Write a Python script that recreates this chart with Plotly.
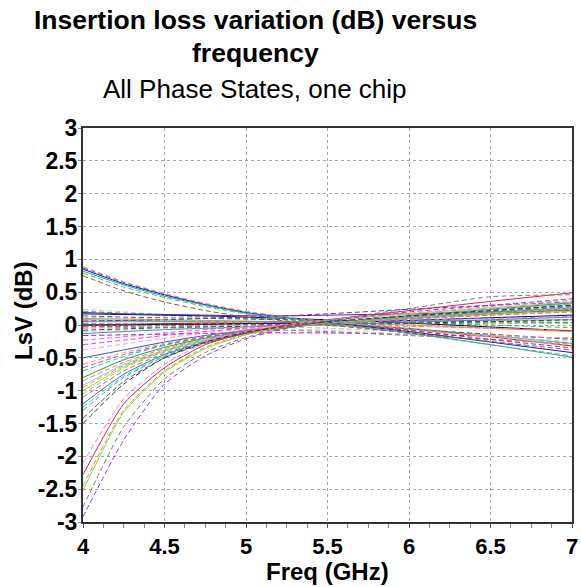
import plotly.graph_objects as go

# ---------------- data ----------------
FREQ_GHZ = [4.0, 4.25, 4.5, 4.75, 5.0, 5.25, 5.5, 6.0, 6.5, 7.0]

# states that start high at 4 GHz and end low at 7 GHz
TOP_STATES = [
    [0.85, 0.63, 0.46, 0.31, 0.19, 0.11, 0.04, -0.10, -0.26, -0.42],
    [0.87, 0.65, 0.47, 0.32, 0.20, 0.12, 0.05, -0.08, -0.22, -0.35],
    [0.82, 0.61, 0.44, 0.30, 0.18, 0.10, 0.03, -0.12, -0.30, -0.49],
    [0.79, 0.58, 0.42, 0.28, 0.17, 0.10, 0.03, -0.13, -0.30, -0.47],
    [0.89, 0.66, 0.48, 0.33, 0.21, 0.12, 0.05, -0.06, -0.18, -0.30],
    [0.75, 0.52, 0.35, 0.22, 0.12, 0.06, 0.00, -0.12, -0.25, -0.38],
]

# states with steep roll-off at the low band edge
STEEP_STATES = [
    [-2.28, -1.20, -0.65, -0.30, -0.12, 0.00, 0.08, 0.22, 0.36, 0.49],
    [-2.10, -1.12, -0.60, -0.27, -0.10, 0.01, 0.08, 0.18, 0.28, 0.38],
    [-2.52, -1.33, -0.72, -0.36, -0.15, -0.02, 0.07, 0.17, 0.26, 0.35],
    [-2.45, -1.30, -0.70, -0.34, -0.14, -0.02, 0.06, 0.15, 0.24, 0.32],
    [-2.77, -1.55, -0.82, -0.42, -0.19, -0.04, 0.07, 0.25, 0.43, 0.46],
    [-2.92, -1.75, -0.90, -0.47, -0.21, -0.05, 0.06, 0.20, 0.30, 0.40],
    [-1.50, -0.90, -0.50, -0.26, -0.11, -0.02, 0.05, 0.14, 0.22, 0.30],
]

# moderately low states at 4 GHz
MID_STATES = [
    [-0.50, -0.38, -0.26, -0.16, -0.08, -0.02, 0.03, 0.10, 0.17, 0.24],
    [-0.23, -0.18, -0.12, -0.07, -0.03, 0.00, 0.03, 0.07, 0.10, 0.13],
    [-0.30, -0.23, -0.16, -0.10, -0.05, -0.01, 0.03, 0.09, 0.15, 0.20],
    [-0.38, -0.29, -0.20, -0.12, -0.06, -0.01, 0.03, 0.10, 0.17, 0.22],
    [-0.60, -0.42, -0.28, -0.17, -0.08, -0.02, 0.03, 0.11, 0.19, 0.27],
    [-0.70, -0.48, -0.31, -0.19, -0.09, -0.03, 0.03, 0.12, 0.21, 0.30],
    [-0.80, -0.53, -0.34, -0.20, -0.10, -0.03, 0.02, 0.10, 0.17, 0.23],
    [-0.92, -0.60, -0.38, -0.22, -0.11, -0.03, 0.03, 0.13, 0.23, 0.33],
    [-1.00, -0.64, -0.40, -0.24, -0.12, -0.04, 0.02, 0.10, 0.16, 0.21],
    [-1.10, -0.70, -0.43, -0.25, -0.12, -0.04, 0.02, 0.11, 0.19, 0.26],
    [-1.25, -0.78, -0.47, -0.27, -0.13, -0.04, 0.02, 0.12, 0.20, 0.28],
    [-1.30, -0.80, -0.48, -0.27, -0.13, -0.04, 0.03, 0.13, 0.22, 0.31],
    [-1.20, -0.75, -0.45, -0.26, -0.12, -0.03, 0.03, 0.14, 0.24, 0.34],
    [-1.42, -0.86, -0.50, -0.28, -0.13, -0.04, 0.02, 0.10, 0.18, 0.25],
    [-0.85, -0.57, -0.36, -0.21, -0.10, -0.03, 0.02, 0.09, 0.15, 0.20],
    [-0.65, -0.45, -0.30, -0.18, -0.09, -0.02, 0.03, 0.12, 0.20, 0.28],
    [-0.95, -0.62, -0.39, -0.23, -0.11, -0.03, 0.02, 0.10, 0.18, 0.24],
    [-1.05, -0.66, -0.41, -0.24, -0.11, -0.03, 0.03, 0.11, 0.18, 0.25],
]

# nearly flat states
FLAT_STATES = [
    [0.24, 0.20, 0.16, 0.13, 0.10, 0.08, 0.06, 0.02, -0.04, -0.10],
    [0.21, 0.18, 0.15, 0.12, 0.10, 0.08, 0.06, 0.03, 0.00, -0.04],
    [0.17, 0.16, 0.15, 0.14, 0.12, 0.10, 0.08, 0.03, -0.03, -0.09],
    [0.14, 0.12, 0.11, 0.10, 0.09, 0.08, 0.07, 0.06, 0.05, 0.04],
    [0.10, 0.09, 0.08, 0.07, 0.06, 0.05, 0.04, 0.00, -0.05, -0.10],
    [0.08, 0.07, 0.06, 0.06, 0.05, 0.04, 0.03, -0.05, -0.16, -0.28],
    [0.05, 0.05, 0.05, 0.05, 0.05, 0.05, 0.05, 0.06, 0.07, 0.08],
    [0.00, 0.01, 0.02, 0.03, 0.03, 0.03, 0.02, -0.06, -0.18, -0.32],
    [0.02, 0.02, 0.02, 0.02, 0.02, 0.01, 0.00, -0.07, -0.14, -0.22],
    [-0.03, -0.02, -0.01, 0.00, 0.01, 0.01, 0.01, 0.02, 0.03, 0.03],
    [-0.05, -0.04, -0.03, -0.02, -0.01, 0.00, 0.00, -0.02, -0.05, -0.08],
    [-0.08, -0.06, -0.04, -0.03, -0.02, -0.01, 0.00, 0.03, 0.05, 0.08],
    [-0.13, -0.10, -0.07, -0.05, -0.03, -0.01, 0.00, 0.04, 0.08, 0.12],
    [-0.16, -0.15, -0.14, -0.13, -0.12, -0.12, -0.12, -0.14, -0.17, -0.20],
    [0.12, 0.10, 0.08, 0.06, 0.04, 0.02, -0.01, -0.08, -0.17, -0.25],
    [0.03, 0.02, 0.01, 0.00, -0.01, -0.03, -0.05, -0.10, -0.16, -0.20],
    [0.19, 0.17, 0.16, 0.15, 0.14, 0.14, 0.15, 0.17, 0.20, 0.22],
    [0.06, 0.07, 0.08, 0.10, 0.12, 0.14, 0.17, 0.24, 0.30, 0.35],
    [-0.10, -0.08, -0.06, -0.05, -0.04, -0.06, -0.08, -0.14, -0.22, -0.30],
    [0.00, 0.00, 0.01, 0.01, 0.02, 0.02, 0.03, 0.07, 0.11, 0.15],
    [-0.02, -0.03, -0.04, -0.05, -0.06, -0.08, -0.10, -0.16, -0.22, -0.28],
]

X_TICKS = [4, 4.5, 5, 5.5, 6, 6.5, 7]
X_TICK_LABELS = ["4", "4.5", "5", "5.5", "6", "6.5", "7"]
Y_TICKS = [3, 2.5, 2, 1.5, 1, 0.5, 0, -0.5, -1, -1.5, -2, -2.5, -3]
Y_TICK_LABELS = ["3", "2.5", "2", "1.5", "1", "0.5", "0", "-0.5", "-1", "-1.5", "-2", "-2.5", "-3"]

# ---------------- styles ----------------
D = "5px,3px"
TOP_STYLE = [("#1010cc", "solid"), ("#7b2fbe", D), ("#2aa198", "solid"),
             ("#33cc66", D), ("#d2a070", D), ("#a0522d", D)]
STEEP_STYLE = [("#e0204a", "solid"), ("#ff77cc", D), ("#a8d020", "solid"),
               ("#8fbc3f", D), ("#708090", D), ("#9933ff", D),
               ("#333333", D)]
MID_STYLE = [("#1f5fbf", "solid"), ("#cc66ff", D), ("#ff33cc", D),
             ("#ff99cc", D), ("#ff9933", D), ("#00cccc", D),
             ("#22aa22", "solid"), ("#87ceeb", "solid"), ("#aadd22", "solid"),
             ("#9966cc", D), ("#33cccc", D), ("#20b2aa", D),
             ("#4169e1", "solid"), ("#555555", D), ("#ff66aa", D),
             ("#aa44dd", D), ("#e69138", D), ("#66ee66", D)]
FLAT_STYLE = [("#99ee99", D), ("#33bb33", D), ("#000080", "solid"),
              ("#008080", D), ("#ff8c00", "solid"), ("#00bfff", "solid"),
              ("#888888", "solid"), ("#ff0000", "solid"), ("#8b4513", D),
              ("#808000", D), ("#ff69b4", D), ("#006400", D),
              ("#4682b4", "solid"), ("#cc00cc", D), ("#d2b48c", D),
              ("#bbbbbb", D), ("#6a0dad", "solid"), ("#663399", D),
              ("#add8e6", D), ("#00008b", "solid"), ("#a0785a", D)]

fig = go.Figure()
for group, styles in [(FLAT_STATES, FLAT_STYLE), (MID_STATES, MID_STYLE),
                      (TOP_STATES, TOP_STYLE), (STEEP_STATES, STEEP_STYLE)]:
    for vals, (col, dash) in zip(group, styles):
        fig.add_trace(go.Scatter(
            x=FREQ_GHZ, y=vals, mode="lines",
            line=dict(color=col, width=1, dash=dash, shape="spline", smoothing=0.6),
            showlegend=False, hoverinfo="skip"))

FONT = "Arial, 'Liberation Sans', sans-serif"
W, H = 581, 587
# plot box in page pixels: left 83, right 572, top 128, bottom 522
L, R, T, B = 83, 581 - 572, 128, 587 - 522
PH = H - T - B
PW = W - L - R

def py(ypx):  # page pixel -> paper y
    return (H - B - ypx) / PH

def px(xpx):  # page pixel -> paper x
    return (xpx - L) / PW

fig.update_layout(
    width=W, height=H,
    margin=dict(l=L, r=R, t=T, b=B, autoexpand=False),
    paper_bgcolor="white", plot_bgcolor="white",
    font=dict(family=FONT, color="black"),
    xaxis=dict(range=[4, 7], tickvals=X_TICKS, ticktext=X_TICK_LABELS,
               tickfont=dict(size=22, family=FONT, weight="bold", color="black"),
               showgrid=True, gridcolor="#a8a8a8", griddash="dot", gridwidth=1,
               showline=True, linecolor="#333333", linewidth=2, mirror=True,
               ticks="outside", ticklen=4, tickcolor="#555555",
               minor=dict(dtick=0.125, ticks="outside", ticklen=4,
                          tickcolor="#888888", showgrid=False),
               ticklabeloverflow="allow",
               zeroline=False, fixedrange=True, automargin=False),
    yaxis=dict(range=[-3, 3], tickvals=Y_TICKS, ticktext=Y_TICK_LABELS,
               tickfont=dict(size=23, family=FONT, weight="bold", color="black"),
               showgrid=True, gridcolor="#a8a8a8", griddash="dot", gridwidth=1,
               showline=True, linecolor="#333333", linewidth=2, mirror=True,
               ticks="outside", ticklen=3, tickcolor="#888888",
               ticklabelstandoff=-4, ticklabeloverflow="allow",
               zeroline=False, fixedrange=True, automargin=False),
    annotations=[
        dict(text="<b>Insertion loss variation (dB) versus</b>", xref="paper", yref="paper",
             x=px(255), y=py(20), xanchor="center", yanchor="middle", showarrow=False,
             font=dict(size=26.5, family=FONT, color="black")),
        dict(text="<b>frequency</b>", xref="paper", yref="paper",
             x=px(255), y=py(53), xanchor="center", yanchor="middle", showarrow=False,
             font=dict(size=26.5, family=FONT, color="black")),
        dict(text="All Phase States, one chip", xref="paper", yref="paper",
             x=px(255), y=py(89), xanchor="center", yanchor="middle", showarrow=False,
             font=dict(size=26, family=FONT, color="black")),
        dict(text="<b>Freq (GHz)</b>", xref="paper", yref="paper",
             x=px(327), y=py(571), xanchor="center", yanchor="middle", showarrow=False,
             font=dict(size=24, family=FONT, color="black")),
        dict(text="<b>LsV (dB)</b>", xref="paper", yref="paper", textangle=-90,
             x=px(23), y=py(311), xanchor="center", yanchor="middle", showarrow=False,
             font=dict(size=24, family=FONT, color="black")),
    ],
)

fig.write_html("out.html", config={"displayModeBar": False},
               post_script="document.body.style.margin='0';")
